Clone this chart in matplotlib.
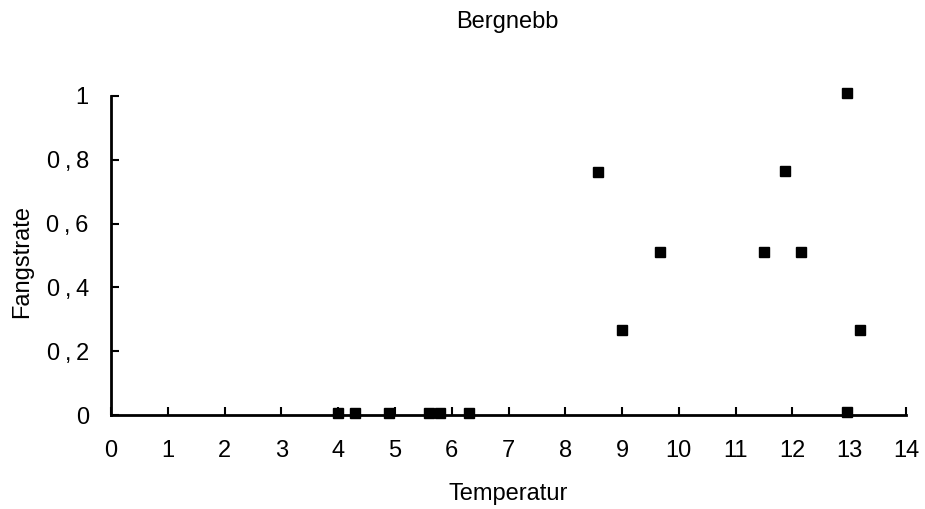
import matplotlib
matplotlib.use("Agg")
import matplotlib.pyplot as plt
from matplotlib.ticker import FuncFormatter

temperature = [4.0, 4.3, 4.9, 5.6, 5.8, 6.3, 8.57, 9.0, 9.66, 11.5, 11.87, 12.15, 12.96, 12.96, 13.19]
catch_rate = [0.005, 0.005, 0.005, 0.005, 0.005, 0.005, 0.763, 0.265, 0.51, 0.51, 0.765, 0.51, 1.01, 0.01, 0.266]

x_ticks = list(range(0, 15))
y_ticks = [0, 0.2, 0.4, 0.6, 0.8, 1]

plt.rcParams['font.family'] = ['Liberation Sans', 'DejaVu Sans']

W, H = 925, 509
fig = plt.figure(figsize=(W / 100, H / 100), dpi=100)
x0, x1, y_top, y_bot = 111, 906, 96, 415
ax = fig.add_axes([x0 / W, 1 - y_bot / H, (x1 - x0) / W, (y_bot - y_top) / H])

ax.plot(temperature, catch_rate, linestyle='none', marker='s', markersize=7.5,
        color='black', clip_on=False, zorder=3)

ax.set_xlim(0, 14)
ax.set_ylim(0, 1)
ax.set_xticks(x_ticks)
ax.set_yticks(y_ticks)

def yfmt(v, pos):
    if abs(v) < 1e-9:
        return "0"
    if abs(v - 1) < 1e-9:
        return "1"
    return ("%.1f" % v).replace(".", "\u2009,\u2009")

ax.yaxis.set_major_formatter(FuncFormatter(yfmt))

for s in ['top', 'right']:
    ax.spines[s].set_visible(False)
for s in ['left', 'bottom']:
    ax.spines[s].set_linewidth(2)
    ax.spines[s].set_color('black')

ax.tick_params(axis='both', direction='in', length=6, width=1.5, labelsize=17, colors='black')
ax.tick_params(axis='x', pad=18)
ax.tick_params(axis='y', pad=16)

ax.set_xlabel("Temperatur", fontsize=17)
ax.xaxis.set_label_coords(0.5, -(494 - y_bot) / (y_bot - y_top))
ax.xaxis.label.set_va('center')
ax.set_ylabel("Fangstrate", fontsize=17)
ax.yaxis.set_label_coords(-(x0 - 22) / (x1 - x0), (y_bot - 261) / (y_bot - y_top))
ax.yaxis.label.set_va('center')
fig.text(507 / W, 1 - 22 / H, "Bergnebb", ha='center', va='center', fontsize=17)

fig.savefig("out.png", dpi=100)
